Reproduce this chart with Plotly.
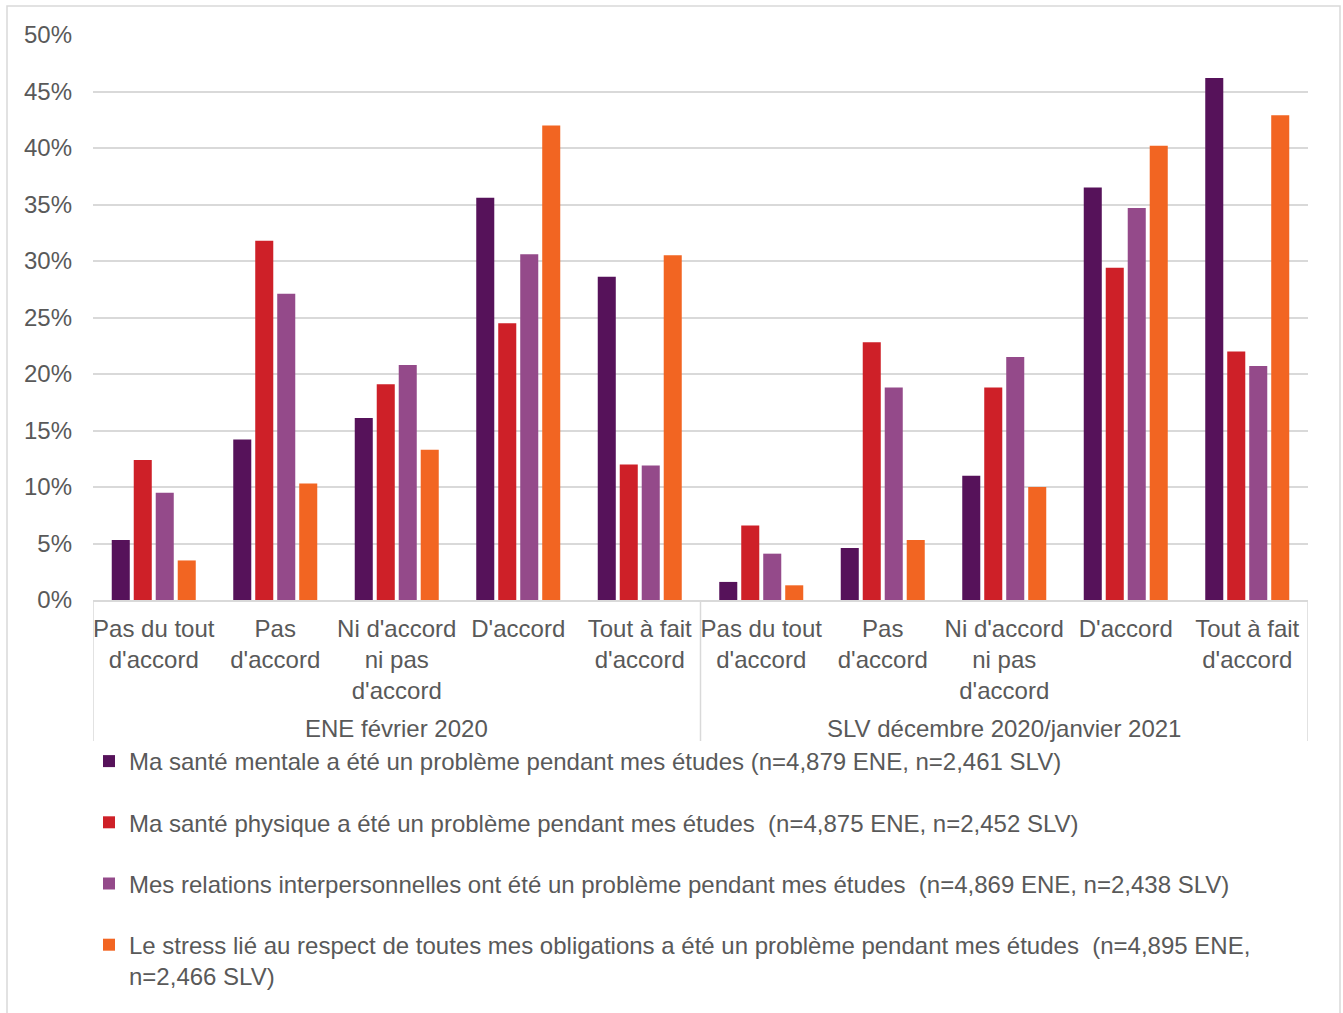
import plotly.graph_objects as go

# Survey response categories and the two survey waves
categories = ["Pas du tout<br>d'accord", "Pas<br>d'accord", "Ni d'accord<br>ni pas<br>d'accord",
              "D'accord", "Tout à fait<br>d'accord"]
waves = ["ENE février 2020", "SLV décembre 2020/janvier 2021"]

# Percentages per series: first five values = ENE, last five = SLV
mentale = [5.3, 14.2, 16.1, 35.6, 28.6, 1.6, 4.6, 11.0, 36.5, 46.2]
physique = [12.4, 31.8, 19.1, 24.5, 12.0, 6.6, 22.8, 18.8, 29.4, 22.0]
relations = [9.5, 27.1, 20.8, 30.6, 11.9, 4.1, 18.8, 21.5, 34.7, 20.7]
stress = [3.5, 10.3, 13.3, 42.0, 30.5, 1.3, 5.3, 10.0, 40.2, 42.9]

series_names = [
    "Ma santé mentale a été un problème pendant mes études (n=4,879 ENE, n=2,461 SLV)",
    "Ma santé physique a été un problème pendant mes études \u00a0(n=4,875 ENE, n=2,452 SLV)",
    "Mes relations interpersonnelles ont été un problème pendant mes études \u00a0(n=4,869 ENE, n=2,438 SLV)",
    "Le stress lié au respect de toutes mes obligations a été un problème pendant mes études \u00a0(n=4,895 ENE,<br>n=2,466 SLV)",
]
series_values = [mentale, physique, relations, stress]
series_colors = ["#56125A", "#CE2028", "#944A8A", "#F26522"]

y_ticks = list(range(0, 51, 5))

# Figure geometry
W, H = 1343, 1013
ML, MR, MT, MB = 93, 35, 35, 413
PW, PH = W - ML - MR, H - MT - MB

def px_x(px):
    return (px - ML) / PW

def px_y(py):
    return (H - MB - py) / PH

FONT = "Liberation Sans, Arial, sans-serif"
FS = 24
TXT = "#595959"
GRID = "#D9D9D9"

n_cat = len(categories)
xs = list(range(n_cat * len(waves)))
tick_text = categories * len(waves)

fig = go.Figure()
for name, vals, col in zip(series_names, series_values, series_colors):
    fig.add_trace(go.Bar(
        x=xs, y=vals, name=name, legendgroup=name,
        marker=dict(color=col, line=dict(width=0)),
    ))

# Wave labels beneath the category labels
for i, wv in enumerate(waves):
    fig.add_annotation(
        x=i * n_cat + (n_cat - 1) / 2, xref="x",
        y=px_y(728), yref="paper", yanchor="middle",
        text=wv, showarrow=False,
        font=dict(family=FONT, size=FS, color=TXT),
    )

# Vertical dividers of the grouped category axis
for xv in [-0.5, n_cat - 0.5, 2 * n_cat - 0.5]:
    fig.add_shape(type="line", xref="x", yref="paper",
                  x0=xv, x1=xv, y0=0, y1=px_y(741),
                  line=dict(color=GRID, width=1.5))

# Outer chart frame
fig.add_shape(type="rect", xref="paper", yref="paper",
              x0=px_x(7), x1=px_x(1340), y0=px_y(1020), y1=px_y(6),
              line=dict(color=GRID, width=1.5), fillcolor="rgba(0,0,0,0)", layer="below")

fig.update_layout(
    width=W, height=H,
    margin=dict(l=ML, r=MR, t=MT, b=MB, pad=0, autoexpand=False),
    paper_bgcolor="white", plot_bgcolor="white",
    barmode="group", bargap=0.276, bargroupgap=0.18,
    font=dict(family=FONT, size=FS, color=TXT),
    showlegend=True,
    legend=dict(
        x=px_x(89), xanchor="left", y=px_y(739), yanchor="top",
        orientation="v", traceorder="grouped", tracegroupgap=27,
        valign="top", itemwidth=30,
        font=dict(family=FONT, size=FS, color=TXT),
        bgcolor="rgba(0,0,0,0)",
    ),
    xaxis=dict(
        range=[-0.5, len(xs) - 0.5], automargin=False,
        tickmode="array", tickvals=xs, ticktext=tick_text,
        showgrid=False, zeroline=False,
        showline=True, linecolor=GRID, linewidth=1.5,
        ticks="", ticklabelstandoff=6,
        tickfont=dict(family=FONT, size=FS, color=TXT),
    ),
    yaxis=dict(
        range=[0, 50], automargin=False,
        tickmode="array", tickvals=y_ticks,
        ticktext=[f"{v}%" for v in y_ticks],
        showgrid=True, gridcolor=GRID, gridwidth=1.5,
        zeroline=False, showline=False, ticks="",
        ticklabelstandoff=20,
        tickfont=dict(family=FONT, size=FS, color=TXT),
    ),
)

fig.write_html("out.html")
